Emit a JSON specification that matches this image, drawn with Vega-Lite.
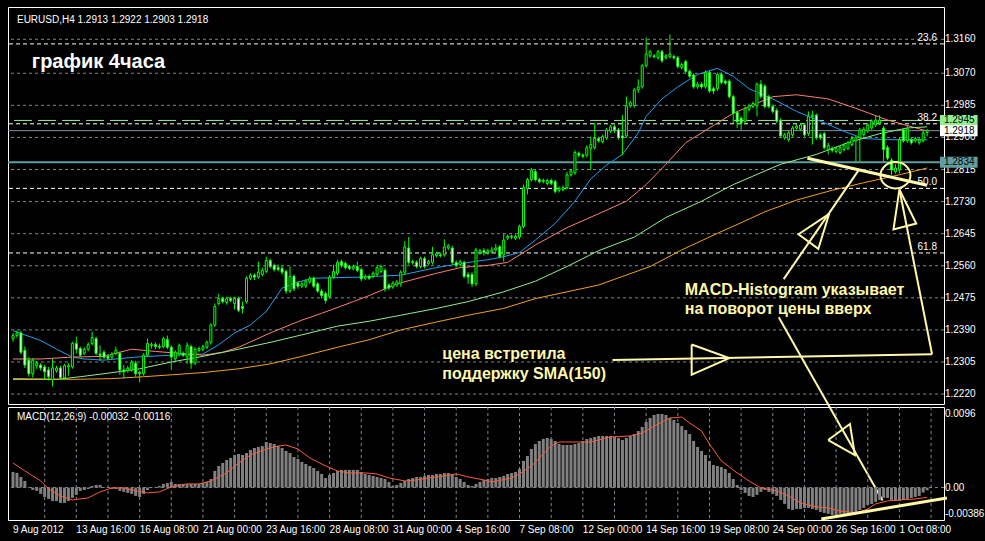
{
"$schema": "https://vega.github.io/schema/vega-lite/v6.json",
"background": "#000000",
"padding": {"left": 6, "top": 6, "right": 0, "bottom": 6},
"autosize": {"type": "pad"},
"spacing": 3,
"bounds": "flush",
"datasets": {
"candles": [
{"i":0,"o":1.2367,"h":1.2382,"l":1.2359,"c":1.2375,"m":0.00186},
{"i":1,"o":1.2375,"h":1.2388,"l":1.2369,"c":1.2382,"m":0.00174},
{"i":2,"o":1.2382,"h":1.2388,"l":1.2326,"c":1.2331,"m":0.00126},
{"i":3,"o":1.2336,"h":1.2346,"l":1.2289,"c":1.2297,"m":0.00079},
{"i":4,"o":1.2310,"h":1.2318,"l":1.2266,"c":1.2274,"m":0.00007},
{"i":5,"o":1.2274,"h":1.2315,"l":1.2264,"c":1.2310,"m":-0.00029},
{"i":6,"o":1.2295,"h":1.2308,"l":1.2287,"c":1.2302,"m":-0.00040},
{"i":7,"o":1.2297,"h":1.2302,"l":1.2282,"c":1.2289,"m":-0.00076},
{"i":8,"o":1.2292,"h":1.2297,"l":1.2259,"c":1.2279,"m":-0.00112},
{"i":9,"o":1.2284,"h":1.2292,"l":1.2256,"c":1.2266,"m":-0.00136},
{"i":10,"o":1.2259,"h":1.2313,"l":1.2240,"c":1.2289,"m":-0.00160},
{"i":11,"o":1.2282,"h":1.2295,"l":1.2277,"c":1.2289,"m":-0.00160},
{"i":12,"o":1.2289,"h":1.2295,"l":1.2259,"c":1.2264,"m":-0.00183},
{"i":13,"o":1.2264,"h":1.2300,"l":1.2259,"c":1.2295,"m":-0.00183},
{"i":14,"o":1.2292,"h":1.2302,"l":1.2269,"c":1.2295,"m":-0.00160},
{"i":15,"o":1.2292,"h":1.2359,"l":1.2287,"c":1.2354,"m":-0.00124},
{"i":16,"o":1.2354,"h":1.2372,"l":1.2328,"c":1.2339,"m":-0.00088},
{"i":17,"o":1.2341,"h":1.2346,"l":1.2318,"c":1.2323,"m":-0.00040},
{"i":18,"o":1.2328,"h":1.2344,"l":1.2323,"c":1.2339,"m":-0.00029},
{"i":19,"o":1.2339,"h":1.2357,"l":1.2333,"c":1.2351,"m":-0.00017},
{"i":20,"o":1.2354,"h":1.2385,"l":1.2349,"c":1.2370,"m":0.00019},
{"i":21,"o":1.2367,"h":1.2372,"l":1.2323,"c":1.2328,"m":0.00031},
{"i":22,"o":1.2326,"h":1.2349,"l":1.2308,"c":1.2323,"m":0.00031},
{"i":23,"o":1.2331,"h":1.2336,"l":1.2313,"c":1.2318,"m":0.00007},
{"i":24,"o":1.2320,"h":1.2326,"l":1.2310,"c":1.2315,"m":-0.00005},
{"i":25,"o":1.2318,"h":1.2331,"l":1.2313,"c":1.2326,"m":-0.00017},
{"i":26,"o":1.2328,"h":1.2346,"l":1.2323,"c":1.2336,"m":-0.00017},
{"i":27,"o":1.2328,"h":1.2333,"l":1.2271,"c":1.2284,"m":-0.00040},
{"i":28,"o":1.2284,"h":1.2297,"l":1.2261,"c":1.2279,"m":-0.00052},
{"i":29,"o":1.2282,"h":1.2295,"l":1.2277,"c":1.2289,"m":-0.00064},
{"i":30,"o":1.2284,"h":1.2310,"l":1.2279,"c":1.2305,"m":-0.00076},
{"i":31,"o":1.2302,"h":1.2308,"l":1.2266,"c":1.2274,"m":-0.00100},
{"i":32,"o":1.2277,"h":1.2282,"l":1.2251,"c":1.2274,"m":-0.00112},
{"i":33,"o":1.2274,"h":1.2328,"l":1.2269,"c":1.2323,"m":-0.00076},
{"i":34,"o":1.2323,"h":1.2367,"l":1.2318,"c":1.2354,"m":-0.00029},
{"i":35,"o":1.2349,"h":1.2357,"l":1.2341,"c":1.2351,"m":-0.00005},
{"i":36,"o":1.2351,"h":1.2357,"l":1.2339,"c":1.2346,"m":0.00007},
{"i":37,"o":1.2346,"h":1.2354,"l":1.2339,"c":1.2344,"m":0.00019},
{"i":38,"o":1.2346,"h":1.2372,"l":1.2341,"c":1.2367,"m":0.00043},
{"i":39,"o":1.2364,"h":1.2375,"l":1.2339,"c":1.2344,"m":0.00055},
{"i":40,"o":1.2344,"h":1.2349,"l":1.2284,"c":1.2318,"m":0.00067},
{"i":41,"o":1.2313,"h":1.2336,"l":1.2308,"c":1.2331,"m":0.00043},
{"i":42,"o":1.2326,"h":1.2354,"l":1.2320,"c":1.2349,"m":0.00043},
{"i":43,"o":1.2328,"h":1.2333,"l":1.2318,"c":1.2323,"m":0.00043},
{"i":44,"o":1.2318,"h":1.2357,"l":1.2300,"c":1.2349,"m":0.00043},
{"i":45,"o":1.2346,"h":1.2351,"l":1.2287,"c":1.2302,"m":0.00043},
{"i":46,"o":1.2302,"h":1.2344,"l":1.2297,"c":1.2339,"m":0.00043},
{"i":47,"o":1.2336,"h":1.2346,"l":1.2331,"c":1.2341,"m":0.00043},
{"i":48,"o":1.2339,"h":1.2351,"l":1.2333,"c":1.2346,"m":0.00055},
{"i":49,"o":1.2344,"h":1.2362,"l":1.2339,"c":1.2357,"m":0.00067},
{"i":50,"o":1.2357,"h":1.2408,"l":1.2351,"c":1.2403,"m":0.00102},
{"i":51,"o":1.2403,"h":1.2460,"l":1.2398,"c":1.2452,"m":0.00198},
{"i":52,"o":1.2460,"h":1.2486,"l":1.2455,"c":1.2473,"m":0.00257},
{"i":53,"o":1.2473,"h":1.2478,"l":1.2460,"c":1.2465,"m":0.00293},
{"i":54,"o":1.2463,"h":1.2478,"l":1.2457,"c":1.2473,"m":0.00329},
{"i":55,"o":1.2473,"h":1.2478,"l":1.2463,"c":1.2468,"m":0.00353},
{"i":56,"o":1.2460,"h":1.2478,"l":1.2444,"c":1.2473,"m":0.00388},
{"i":57,"o":1.2473,"h":1.2478,"l":1.2437,"c":1.2442,"m":0.00400},
{"i":58,"o":1.2452,"h":1.2465,"l":1.2434,"c":1.2447,"m":0.00388},
{"i":59,"o":1.2465,"h":1.2532,"l":1.2460,"c":1.2527,"m":0.00412},
{"i":60,"o":1.2527,"h":1.2540,"l":1.2522,"c":1.2535,"m":0.00448},
{"i":61,"o":1.2535,"h":1.2540,"l":1.2522,"c":1.2530,"m":0.00472},
{"i":62,"o":1.2530,"h":1.2571,"l":1.2525,"c":1.2543,"m":0.00484},
{"i":63,"o":1.2537,"h":1.2555,"l":1.2532,"c":1.2548,"m":0.00495},
{"i":64,"o":1.2545,"h":1.2584,"l":1.2540,"c":1.2574,"m":0.00543},
{"i":65,"o":1.2574,"h":1.2579,"l":1.2553,"c":1.2558,"m":0.00531},
{"i":66,"o":1.2561,"h":1.2566,"l":1.2545,"c":1.2550,"m":0.00519},
{"i":67,"o":1.2555,"h":1.2563,"l":1.2545,"c":1.2550,"m":0.00495},
{"i":68,"o":1.2553,"h":1.2561,"l":1.2537,"c":1.2543,"m":0.00472},
{"i":69,"o":1.2545,"h":1.2550,"l":1.2486,"c":1.2493,"m":0.00436},
{"i":70,"o":1.2493,"h":1.2558,"l":1.2488,"c":1.2532,"m":0.00412},
{"i":71,"o":1.2532,"h":1.2537,"l":1.2493,"c":1.2499,"m":0.00364},
{"i":72,"o":1.2514,"h":1.2519,"l":1.2499,"c":1.2506,"m":0.00341},
{"i":73,"o":1.2506,"h":1.2519,"l":1.2501,"c":1.2512,"m":0.00305},
{"i":74,"o":1.2506,"h":1.2525,"l":1.2501,"c":1.2519,"m":0.00281},
{"i":75,"o":1.2517,"h":1.2532,"l":1.2512,"c":1.2527,"m":0.00257},
{"i":76,"o":1.2527,"h":1.2532,"l":1.2501,"c":1.2506,"m":0.00233},
{"i":77,"o":1.2512,"h":1.2517,"l":1.2488,"c":1.2493,"m":0.00198},
{"i":78,"o":1.2493,"h":1.2499,"l":1.2473,"c":1.2481,"m":0.00162},
{"i":79,"o":1.2486,"h":1.2491,"l":1.2460,"c":1.2468,"m":0.00114},
{"i":80,"o":1.2478,"h":1.2535,"l":1.2473,"c":1.2530,"m":0.00150},
{"i":81,"o":1.2530,"h":1.2563,"l":1.2525,"c":1.2545,"m":0.00174},
{"i":82,"o":1.2540,"h":1.2576,"l":1.2535,"c":1.2569,"m":0.00198},
{"i":83,"o":1.2571,"h":1.2576,"l":1.2555,"c":1.2561,"m":0.00210},
{"i":84,"o":1.2566,"h":1.2571,"l":1.2550,"c":1.2555,"m":0.00210},
{"i":85,"o":1.2558,"h":1.2563,"l":1.2548,"c":1.2553,"m":0.00210},
{"i":86,"o":1.2553,"h":1.2563,"l":1.2548,"c":1.2558,"m":0.00210},
{"i":87,"o":1.2558,"h":1.2571,"l":1.2543,"c":1.2548,"m":0.00210},
{"i":88,"o":1.2550,"h":1.2555,"l":1.2519,"c":1.2525,"m":0.00186},
{"i":89,"o":1.2527,"h":1.2537,"l":1.2522,"c":1.2532,"m":0.00162},
{"i":90,"o":1.2532,"h":1.2537,"l":1.2522,"c":1.2527,"m":0.00150},
{"i":91,"o":1.2532,"h":1.2545,"l":1.2527,"c":1.2540,"m":0.00138},
{"i":92,"o":1.2537,"h":1.2561,"l":1.2532,"c":1.2555,"m":0.00126},
{"i":93,"o":1.2545,"h":1.2563,"l":1.2540,"c":1.2558,"m":0.00114},
{"i":94,"o":1.2548,"h":1.2553,"l":1.2491,"c":1.2499,"m":0.00102},
{"i":95,"o":1.2509,"h":1.2514,"l":1.2496,"c":1.2501,"m":0.00067},
{"i":96,"o":1.2504,"h":1.2519,"l":1.2499,"c":1.2514,"m":0.00019},
{"i":97,"o":1.2509,"h":1.2522,"l":1.2504,"c":1.2517,"m":0.00031},
{"i":98,"o":1.2514,"h":1.2548,"l":1.2504,"c":1.2543,"m":0.00055},
{"i":99,"o":1.2543,"h":1.2625,"l":1.2537,"c":1.2610,"m":0.00079},
{"i":100,"o":1.2607,"h":1.2636,"l":1.2563,"c":1.2569,"m":0.00102},
{"i":101,"o":1.2571,"h":1.2576,"l":1.2563,"c":1.2569,"m":0.00114},
{"i":102,"o":1.2569,"h":1.2574,"l":1.2553,"c":1.2558,"m":0.00126},
{"i":103,"o":1.2558,"h":1.2584,"l":1.2553,"c":1.2579,"m":0.00126},
{"i":104,"o":1.2579,"h":1.2584,"l":1.2553,"c":1.2558,"m":0.00138},
{"i":105,"o":1.2566,"h":1.2576,"l":1.2561,"c":1.2571,"m":0.00150},
{"i":106,"o":1.2569,"h":1.2610,"l":1.2563,"c":1.2589,"m":0.00150},
{"i":107,"o":1.2587,"h":1.2597,"l":1.2582,"c":1.2592,"m":0.00162},
{"i":108,"o":1.2589,"h":1.2595,"l":1.2582,"c":1.2587,"m":0.00162},
{"i":109,"o":1.2589,"h":1.2630,"l":1.2584,"c":1.2610,"m":0.00174},
{"i":110,"o":1.2607,"h":1.2618,"l":1.2602,"c":1.2613,"m":0.00174},
{"i":111,"o":1.2607,"h":1.2613,"l":1.2563,"c":1.2569,"m":0.00162},
{"i":112,"o":1.2569,"h":1.2574,"l":1.2555,"c":1.2561,"m":0.00126},
{"i":113,"o":1.2563,"h":1.2576,"l":1.2558,"c":1.2571,"m":0.00102},
{"i":114,"o":1.2569,"h":1.2574,"l":1.2527,"c":1.2532,"m":0.00067},
{"i":115,"o":1.2537,"h":1.2543,"l":1.2512,"c":1.2530,"m":0.00031},
{"i":116,"o":1.2537,"h":1.2543,"l":1.2504,"c":1.2512,"m":0.00019},
{"i":117,"o":1.2512,"h":1.2607,"l":1.2506,"c":1.2602,"m":0.00043},
{"i":118,"o":1.2595,"h":1.2605,"l":1.2589,"c":1.2600,"m":0.00067},
{"i":119,"o":1.2600,"h":1.2607,"l":1.2587,"c":1.2595,"m":0.00090},
{"i":120,"o":1.2595,"h":1.2605,"l":1.2589,"c":1.2600,"m":0.00102},
{"i":121,"o":1.2597,"h":1.2610,"l":1.2592,"c":1.2602,"m":0.00114},
{"i":122,"o":1.2602,"h":1.2618,"l":1.2597,"c":1.2607,"m":0.00114},
{"i":123,"o":1.2610,"h":1.2615,"l":1.2579,"c":1.2584,"m":0.00126},
{"i":124,"o":1.2589,"h":1.2646,"l":1.2571,"c":1.2628,"m":0.00138},
{"i":125,"o":1.2633,"h":1.2643,"l":1.2628,"c":1.2638,"m":0.00162},
{"i":126,"o":1.2638,"h":1.2643,"l":1.2630,"c":1.2636,"m":0.00174},
{"i":127,"o":1.2633,"h":1.2643,"l":1.2628,"c":1.2638,"m":0.00186},
{"i":128,"o":1.2636,"h":1.2669,"l":1.2630,"c":1.2664,"m":0.00222},
{"i":129,"o":1.2664,"h":1.2775,"l":1.2659,"c":1.2767,"m":0.00317},
{"i":130,"o":1.2765,"h":1.2793,"l":1.2749,"c":1.2788,"m":0.00376},
{"i":131,"o":1.2788,"h":1.2819,"l":1.2783,"c":1.2814,"m":0.00460},
{"i":132,"o":1.2809,"h":1.2814,"l":1.2783,"c":1.2788,"m":0.00519},
{"i":133,"o":1.2788,"h":1.2793,"l":1.2778,"c":1.2783,"m":0.00555},
{"i":134,"o":1.2783,"h":1.2791,"l":1.2778,"c":1.2786,"m":0.00579},
{"i":135,"o":1.2778,"h":1.2791,"l":1.2773,"c":1.2786,"m":0.00591},
{"i":136,"o":1.2786,"h":1.2791,"l":1.2773,"c":1.2778,"m":0.00579},
{"i":137,"o":1.2783,"h":1.2788,"l":1.2752,"c":1.2757,"m":0.00555},
{"i":138,"o":1.2760,"h":1.2770,"l":1.2754,"c":1.2765,"m":0.00519},
{"i":139,"o":1.2762,"h":1.2773,"l":1.2757,"c":1.2767,"m":0.00507},
{"i":140,"o":1.2767,"h":1.2809,"l":1.2762,"c":1.2801,"m":0.00507},
{"i":141,"o":1.2801,"h":1.2817,"l":1.2796,"c":1.2811,"m":0.00507},
{"i":142,"o":1.2806,"h":1.2866,"l":1.2801,"c":1.2860,"m":0.00519},
{"i":143,"o":1.2858,"h":1.2863,"l":1.2847,"c":1.2853,"m":0.00531},
{"i":144,"o":1.2853,"h":1.2858,"l":1.2845,"c":1.2850,"m":0.00555},
{"i":145,"o":1.2853,"h":1.2879,"l":1.2847,"c":1.2873,"m":0.00579},
{"i":146,"o":1.2871,"h":1.2902,"l":1.2814,"c":1.2881,"m":0.00591},
{"i":147,"o":1.2873,"h":1.2938,"l":1.2868,"c":1.2897,"m":0.00603},
{"i":148,"o":1.2897,"h":1.2902,"l":1.2886,"c":1.2891,"m":0.00615},
{"i":149,"o":1.2889,"h":1.2907,"l":1.2884,"c":1.2902,"m":0.00615},
{"i":150,"o":1.2899,"h":1.2925,"l":1.2894,"c":1.2920,"m":0.00615},
{"i":151,"o":1.2917,"h":1.2933,"l":1.2912,"c":1.2928,"m":0.00615},
{"i":152,"o":1.2928,"h":1.2933,"l":1.2912,"c":1.2920,"m":0.00603},
{"i":153,"o":1.2920,"h":1.2925,"l":1.2894,"c":1.2899,"m":0.00591},
{"i":154,"o":1.2904,"h":1.2959,"l":1.2853,"c":1.2899,"m":0.00567},
{"i":155,"o":1.2904,"h":1.3008,"l":1.2899,"c":1.2984,"m":0.00591},
{"i":156,"o":1.2984,"h":1.2997,"l":1.2979,"c":1.2992,"m":0.00615},
{"i":157,"o":1.2984,"h":1.3031,"l":1.2979,"c":1.3026,"m":0.00638},
{"i":158,"o":1.3026,"h":1.3054,"l":1.3018,"c":1.3034,"m":0.00674},
{"i":159,"o":1.3034,"h":1.3095,"l":1.3029,"c":1.3090,"m":0.00722},
{"i":160,"o":1.3090,"h":1.3165,"l":1.3085,"c":1.3121,"m":0.00781},
{"i":161,"o":1.3116,"h":1.3132,"l":1.3111,"c":1.3127,"m":0.00829},
{"i":162,"o":1.3116,"h":1.3121,"l":1.3109,"c":1.3114,"m":0.00865},
{"i":163,"o":1.3111,"h":1.3132,"l":1.3106,"c":1.3127,"m":0.00877},
{"i":164,"o":1.3127,"h":1.3132,"l":1.3098,"c":1.3103,"m":0.00877},
{"i":165,"o":1.3111,"h":1.3121,"l":1.3106,"c":1.3116,"m":0.00865},
{"i":166,"o":1.3114,"h":1.3173,"l":1.3109,"c":1.3121,"m":0.00829},
{"i":167,"o":1.3114,"h":1.3119,"l":1.3106,"c":1.3111,"m":0.00805},
{"i":168,"o":1.3111,"h":1.3116,"l":1.3083,"c":1.3088,"m":0.00769},
{"i":169,"o":1.3085,"h":1.3098,"l":1.3080,"c":1.3093,"m":0.00733},
{"i":170,"o":1.3101,"h":1.3106,"l":1.3070,"c":1.3075,"m":0.00686},
{"i":171,"o":1.3075,"h":1.3080,"l":1.3057,"c":1.3062,"m":0.00638},
{"i":172,"o":1.3065,"h":1.3070,"l":1.3029,"c":1.3034,"m":0.00555},
{"i":173,"o":1.3034,"h":1.3047,"l":1.3029,"c":1.3041,"m":0.00484},
{"i":174,"o":1.3041,"h":1.3047,"l":1.3029,"c":1.3034,"m":0.00436},
{"i":175,"o":1.3034,"h":1.3078,"l":1.3029,"c":1.3072,"m":0.00388},
{"i":176,"o":1.3072,"h":1.3078,"l":1.3018,"c":1.3023,"m":0.00317},
{"i":177,"o":1.3029,"h":1.3034,"l":1.3015,"c":1.3023,"m":0.00269},
{"i":178,"o":1.3029,"h":1.3072,"l":1.3023,"c":1.3067,"m":0.00257},
{"i":179,"o":1.3067,"h":1.3072,"l":1.3041,"c":1.3046,"m":0.00245},
{"i":180,"o":1.3049,"h":1.3054,"l":1.3039,"c":1.3044,"m":0.00222},
{"i":181,"o":1.3049,"h":1.3054,"l":1.3003,"c":1.3008,"m":0.00174},
{"i":182,"o":1.3008,"h":1.3013,"l":1.2938,"c":1.2964,"m":0.00102},
{"i":183,"o":1.2966,"h":1.2971,"l":1.2925,"c":1.2941,"m":0.00031},
{"i":184,"o":1.2951,"h":1.2956,"l":1.2920,"c":1.2938,"m":-0.00029},
{"i":185,"o":1.2943,"h":1.2982,"l":1.2938,"c":1.2977,"m":-0.00064},
{"i":186,"o":1.2974,"h":1.2990,"l":1.2969,"c":1.2984,"m":-0.00100},
{"i":187,"o":1.2982,"h":1.2995,"l":1.2977,"c":1.2990,"m":-0.00112},
{"i":188,"o":1.2984,"h":1.3046,"l":1.2956,"c":1.3041,"m":-0.00088},
{"i":189,"o":1.3041,"h":1.3052,"l":1.3003,"c":1.3008,"m":-0.00052},
{"i":190,"o":1.3036,"h":1.3041,"l":1.2977,"c":1.2982,"m":-0.00029},
{"i":191,"o":1.3008,"h":1.3013,"l":1.2977,"c":1.2982,"m":-0.00052},
{"i":192,"o":1.2982,"h":1.2987,"l":1.2964,"c":1.2969,"m":-0.00076},
{"i":193,"o":1.2971,"h":1.2977,"l":1.2938,"c":1.2943,"m":-0.00100},
{"i":194,"o":1.2946,"h":1.2951,"l":1.2899,"c":1.2904,"m":-0.00148},
{"i":195,"o":1.2899,"h":1.2912,"l":1.2894,"c":1.2907,"m":-0.00195},
{"i":196,"o":1.2894,"h":1.2917,"l":1.2889,"c":1.2912,"m":-0.00255},
{"i":197,"o":1.2907,"h":1.2930,"l":1.2902,"c":1.2925,"m":-0.00267},
{"i":198,"o":1.2925,"h":1.2935,"l":1.2920,"c":1.2930,"m":-0.00255},
{"i":199,"o":1.2922,"h":1.2938,"l":1.2917,"c":1.2933,"m":-0.00255},
{"i":200,"o":1.2933,"h":1.2938,"l":1.2902,"c":1.2907,"m":-0.00243},
{"i":201,"o":1.2910,"h":1.2969,"l":1.2904,"c":1.2956,"m":-0.00243},
{"i":202,"o":1.2956,"h":1.2971,"l":1.2881,"c":1.2959,"m":-0.00255},
{"i":203,"o":1.2959,"h":1.2964,"l":1.2894,"c":1.2899,"m":-0.00267},
{"i":204,"o":1.2907,"h":1.2912,"l":1.2894,"c":1.2899,"m":-0.00291},
{"i":205,"o":1.2910,"h":1.2915,"l":1.2868,"c":1.2873,"m":-0.00303},
{"i":206,"o":1.2868,"h":1.2886,"l":1.2855,"c":1.2879,"m":-0.00314},
{"i":207,"o":1.2871,"h":1.2876,"l":1.2860,"c":1.2866,"m":-0.00326},
{"i":208,"o":1.2863,"h":1.2876,"l":1.2858,"c":1.2871,"m":-0.00326},
{"i":209,"o":1.2860,"h":1.2879,"l":1.2855,"c":1.2873,"m":-0.00314},
{"i":210,"o":1.2868,"h":1.2884,"l":1.2863,"c":1.2879,"m":-0.00314},
{"i":211,"o":1.2871,"h":1.2891,"l":1.2866,"c":1.2886,"m":-0.00314},
{"i":212,"o":1.2881,"h":1.2904,"l":1.2876,"c":1.2897,"m":-0.00303},
{"i":213,"o":1.2891,"h":1.2904,"l":1.2835,"c":1.2899,"m":-0.00291},
{"i":214,"o":1.2899,"h":1.2925,"l":1.2835,"c":1.2920,"m":-0.00267},
{"i":215,"o":1.2907,"h":1.2928,"l":1.2902,"c":1.2922,"m":-0.00243},
{"i":216,"o":1.2917,"h":1.2938,"l":1.2912,"c":1.2933,"m":-0.00207},
{"i":217,"o":1.2925,"h":1.2948,"l":1.2920,"c":1.2943,"m":-0.00195},
{"i":218,"o":1.2933,"h":1.2959,"l":1.2928,"c":1.2946,"m":-0.00172},
{"i":219,"o":1.2938,"h":1.2959,"l":1.2933,"c":1.2946,"m":-0.00148},
{"i":220,"o":1.2925,"h":1.2930,"l":1.2835,"c":1.2868,"m":-0.00124},
{"i":221,"o":1.2873,"h":1.2879,"l":1.2840,"c":1.2845,"m":-0.00124},
{"i":222,"o":1.2840,"h":1.2845,"l":1.2801,"c":1.2814,"m":-0.00148},
{"i":223,"o":1.2809,"h":1.2829,"l":1.2804,"c":1.2819,"m":-0.00160},
{"i":224,"o":1.2814,"h":1.2899,"l":1.2804,"c":1.2894,"m":-0.00160},
{"i":225,"o":1.2920,"h":1.2925,"l":1.2886,"c":1.2891,"m":-0.00148},
{"i":226,"o":1.2891,"h":1.2933,"l":1.2886,"c":1.2922,"m":-0.00136},
{"i":227,"o":1.2894,"h":1.2899,"l":1.2881,"c":1.2886,"m":-0.00124},
{"i":228,"o":1.2891,"h":1.2902,"l":1.2886,"c":1.2897,"m":-0.00112},
{"i":229,"o":1.2886,"h":1.2899,"l":1.2881,"c":1.2894,"m":-0.00100},
{"i":230,"o":1.2891,"h":1.2917,"l":1.2886,"c":1.2912,"m":-0.00060},
{"i":231,"o":1.2913,"h":1.2922,"l":1.2903,"c":1.2918,"m":-0.00032}
],
"ma": [
{"s":"b","i":0,"v":1.2388},{"s":"b","i":7,"v":1.2362},{"s":"b","i":11,"v":1.2339},{"s":"b","i":15,"v":1.2318},{"s":"b","i":18,"v":1.2313},{"s":"b","i":23,"v":1.2310},{"s":"b","i":31,"v":1.2318},{"s":"b","i":40,"v":1.2323},{"s":"b","i":48,"v":1.2326},{"s":"b","i":52,"v":1.2351},{"s":"b","i":56,"v":1.2382},{"s":"b","i":60,"v":1.2403},{"s":"b","i":64,"v":1.2439},{"s":"b","i":68,"v":1.2501},{"s":"b","i":72,"v":1.2517},{"s":"b","i":76,"v":1.2527},{"s":"b","i":88,"v":1.2530},{"s":"b","i":98,"v":1.2535},{"s":"b","i":106,"v":1.2553},{"s":"b","i":113,"v":1.2566},{"s":"b","i":120,"v":1.2576},{"s":"b","i":124,"v":1.2584},{"s":"b","i":128,"v":1.2595},{"s":"b","i":132,"v":1.2628},{"s":"b","i":137,"v":1.2672},{"s":"b","i":142,"v":1.2731},{"s":"b","i":146,"v":1.2790},{"s":"b","i":150,"v":1.2827},{"s":"b","i":154,"v":1.2855},{"s":"b","i":158,"v":1.2912},{"s":"b","i":160,"v":1.2956},{"s":"b","i":164,"v":1.3002},{"s":"b","i":168,"v":1.3034},{"s":"b","i":173,"v":1.3067},{"s":"b","i":178,"v":1.3083},{"s":"b","i":182,"v":1.3062},{"s":"b","i":186,"v":1.3029},{"s":"b","i":192,"v":1.3002},{"s":"b","i":198,"v":1.2969},{"s":"b","i":204,"v":1.2943},{"s":"b","i":211,"v":1.2912},{"s":"b","i":215,"v":1.2897},{"s":"b","i":221,"v":1.2894},{"s":"b","i":231,"v":1.2894},
{"s":"r","i":0,"v":1.2313},{"s":"r","i":7,"v":1.2313},{"s":"r","i":15,"v":1.2318},{"s":"r","i":23,"v":1.2320},{"s":"r","i":30,"v":1.2339},{"s":"r","i":36,"v":1.2333},{"s":"r","i":42,"v":1.2328},{"s":"r","i":48,"v":1.2323},{"s":"r","i":53,"v":1.2331},{"s":"r","i":57,"v":1.2344},{"s":"r","i":65,"v":1.2382},{"s":"r","i":73,"v":1.2416},{"s":"r","i":78,"v":1.2434},{"s":"r","i":86,"v":1.2465},{"s":"r","i":90,"v":1.2481},{"s":"r","i":97,"v":1.2512},{"s":"r","i":107,"v":1.2540},{"s":"r","i":113,"v":1.2555},{"s":"r","i":120,"v":1.2561},{"s":"r","i":125,"v":1.2569},{"s":"r","i":132,"v":1.2615},{"s":"r","i":140,"v":1.2661},{"s":"r","i":148,"v":1.2698},{"s":"r","i":155,"v":1.2731},{"s":"r","i":160,"v":1.2775},{"s":"r","i":165,"v":1.2829},{"s":"r","i":170,"v":1.2886},{"s":"r","i":174,"v":1.2912},{"s":"r","i":182,"v":1.2964},{"s":"r","i":192,"v":1.3008},{"s":"r","i":198,"v":1.3013},{"s":"r","i":206,"v":1.3002},{"s":"r","i":213,"v":1.2977},{"s":"r","i":221,"v":1.2946},{"s":"r","i":231,"v":1.2917},
{"s":"g","i":0,"v":1.2259},{"s":"g","i":11,"v":1.2259},{"s":"g","i":17,"v":1.2266},{"s":"g","i":23,"v":1.2274},{"s":"g","i":32,"v":1.2287},{"s":"g","i":40,"v":1.2305},{"s":"g","i":48,"v":1.2320},{"s":"g","i":57,"v":1.2339},{"s":"g","i":65,"v":1.2357},{"s":"g","i":73,"v":1.2377},{"s":"g","i":82,"v":1.2400},{"s":"g","i":90,"v":1.2413},{"s":"g","i":98,"v":1.2429},{"s":"g","i":107,"v":1.2447},{"s":"g","i":115,"v":1.2465},{"s":"g","i":124,"v":1.2491},{"s":"g","i":132,"v":1.2519},{"s":"g","i":140,"v":1.2558},{"s":"g","i":148,"v":1.2600},{"s":"g","i":157,"v":1.2636},{"s":"g","i":165,"v":1.2688},{"s":"g","i":174,"v":1.2731},{"s":"g","i":182,"v":1.2775},{"s":"g","i":194,"v":1.2829},{"s":"g","i":203,"v":1.2855},{"s":"g","i":211,"v":1.2886},{"s":"g","i":219,"v":1.2910},{"s":"g","i":226,"v":1.2925},{"s":"g","i":231,"v":1.2928},
{"s":"o","i":0,"v":1.2261},{"s":"o","i":15,"v":1.2259},{"s":"o","i":25,"v":1.2261},{"s":"o","i":33,"v":1.2266},{"s":"o","i":40,"v":1.2271},{"s":"o","i":48,"v":1.2277},{"s":"o","i":57,"v":1.2287},{"s":"o","i":65,"v":1.2300},{"s":"o","i":73,"v":1.2320},{"s":"o","i":82,"v":1.2344},{"s":"o","i":90,"v":1.2364},{"s":"o","i":98,"v":1.2390},{"s":"o","i":107,"v":1.2411},{"s":"o","i":115,"v":1.2429},{"s":"o","i":124,"v":1.2447},{"s":"o","i":132,"v":1.2473},{"s":"o","i":140,"v":1.2491},{"s":"o","i":148,"v":1.2509},{"s":"o","i":161,"v":1.2558},{"s":"o","i":169,"v":1.2602},{"s":"o","i":178,"v":1.2646},{"s":"o","i":184,"v":1.2674},{"s":"o","i":190,"v":1.2703},{"s":"o","i":198,"v":1.2734},{"s":"o","i":207,"v":1.2760},{"s":"o","i":215,"v":1.2780},{"s":"o","i":224,"v":1.2801},{"s":"o","i":231,"v":1.2819}
],
"sig": [
{"i":0,"v":0.00293},{"i":3,"v":0.00198},{"i":7,"v":0.00079},{"i":9,"v":-0.00017},{"i":12,"v":-0.00100},{"i":15,"v":-0.00148},{"i":19,"v":-0.00124},{"i":22,"v":-0.00052},{"i":25,"v":-0.00005},{"i":28,"v":-0.00005},{"i":30,"v":-0.00029},{"i":34,"v":-0.00064},{"i":37,"v":-0.00052},{"i":40,"v":0.00007},{"i":44,"v":0.00043},{"i":47,"v":0.00043},{"i":50,"v":0.00079},{"i":54,"v":0.00174},{"i":57,"v":0.00293},{"i":60,"v":0.00388},{"i":64,"v":0.00460},{"i":67,"v":0.00495},{"i":69,"v":0.00507},{"i":72,"v":0.00460},{"i":75,"v":0.00353},{"i":79,"v":0.00257},{"i":82,"v":0.00198},{"i":85,"v":0.00174},{"i":89,"v":0.00174},{"i":92,"v":0.00162},{"i":95,"v":0.00114},{"i":99,"v":0.00079},{"i":102,"v":0.00090},{"i":105,"v":0.00114},{"i":109,"v":0.00138},{"i":112,"v":0.00162},{"i":115,"v":0.00126},{"i":119,"v":0.00090},{"i":121,"v":0.00067},{"i":126,"v":0.00114},{"i":128,"v":0.00162},{"i":131,"v":0.00257},{"i":134,"v":0.00400},{"i":136,"v":0.00495},{"i":138,"v":0.00543},{"i":146,"v":0.00543},{"i":149,"v":0.00579},{"i":151,"v":0.00603},{"i":156,"v":0.00615},{"i":159,"v":0.00650},{"i":163,"v":0.00757},{"i":166,"v":0.00829},{"i":169,"v":0.00840},{"i":171,"v":0.00769},{"i":174,"v":0.00674},{"i":176,"v":0.00519},{"i":179,"v":0.00317},{"i":183,"v":0.00174},{"i":186,"v":0.00079},{"i":189,"v":-0.00005},{"i":193,"v":-0.00040},{"i":196,"v":-0.00100},{"i":199,"v":-0.00183},{"i":203,"v":-0.00231},{"i":206,"v":-0.00243},{"i":209,"v":-0.00279},{"i":213,"v":-0.00303},{"i":216,"v":-0.00255},{"i":218,"v":-0.00195},{"i":221,"v":-0.00160},{"i":224,"v":-0.00148},{"i":228,"v":-0.00136},{"i":231,"v":-0.00116}
],
"annThin": [
{"g":"A","k":0,"i":194.75,"p":1.25245},{"g":"A","k":1,"i":213.75,"p":1.28139},
{"g":"B","k":0,"i":206.25,"p":1.26976},{"g":"B","k":1,"i":198.5,"p":1.26434},{"g":"B","k":2,"i":203.5,"p":1.26046},{"g":"B","k":3,"i":206.25,"p":1.26976},
{"g":"C","k":0,"i":224,"p":1.27622},{"g":"C","k":1,"i":232.25,"p":1.23256},
{"g":"D","k":0,"i":224,"p":1.27622},{"g":"D","k":1,"i":222.5,"p":1.26563},{"g":"D","k":2,"i":228.25,"p":1.26718},{"g":"D","k":3,"i":224,"p":1.27622},
{"g":"E","k":0,"i":151.5,"p":1.23101},{"g":"E","k":1,"i":232.25,"p":1.23256},
{"g":"F","k":0,"i":171.5,"p":1.23514},{"g":"F","k":1,"i":171.5,"p":1.22714},{"g":"F","k":2,"i":181,"p":1.23152},{"g":"F","k":3,"i":171.5,"p":1.23514},
{"g":"G","k":0,"i":193.5,"p":1.24238},{"g":"G","k":1,"i":219.75,"p":1.19384}
],
"annThick": [
{"g":"H","k":0,"i":200.75,"p":1.28448},{"g":"H","k":1,"i":231,"p":1.27735}
],
"macdThin": [
{"g":"I","k":0,"i":206,"v":0.00566},{"g":"I","k":1,"i":211.5,"v":0.00757},{"g":"I","k":2,"i":212.75,"v":0.00387},{"g":"I","k":3,"i":206,"v":0.00566}
],
"macdThick": [
{"g":"J","k":0,"i":204.25,"v":-0.00375},{"g":"J","k":1,"i":236,"v":-0.00125}
],
"circle": [{"i":223,"p":1.27997}],
"fib": [{"p":1.31478},{"p":1.29361},{"p":1.2765},{"p":1.25939}],
"lvGreen": [{"p":1.2945}],
"lvGray": [{"p":1.2918}],
"lvTeal": [{"p":1.2834}],
"ylab": [
{"i":235.5,"p":1.316,"t":"1.3160"},{"i":235.5,"p":1.307,"t":"1.3070"},{"i":235.5,"p":1.2985,"t":"1.2985"},{"i":235.5,"p":1.29,"t":"1.2900"},
{"i":235.5,"p":1.2815,"t":"1.2815"},{"i":235.5,"p":1.273,"t":"1.2730"},{"i":235.5,"p":1.2645,"t":"1.2645"},{"i":235.5,"p":1.256,"t":"1.2560"},
{"i":235.5,"p":1.2475,"t":"1.2475"},{"i":235.5,"p":1.239,"t":"1.2390"},{"i":235.5,"p":1.2305,"t":"1.2305"},{"i":235.5,"p":1.222,"t":"1.2220"}
],
"vgrid": [{"i":8},{"i":16},{"i":24},{"i":32},{"i":40},{"i":48},{"i":56},{"i":64},{"i":72},{"i":80},{"i":88},{"i":96},{"i":104},{"i":112},{"i":120},{"i":128},{"i":136},{"i":144},{"i":152},{"i":160},{"i":168},{"i":176},{"i":184},{"i":192},{"i":200},{"i":208},{"i":216},{"i":224},{"i":232}],
"mzero": [{"v":0}],
"mlab": [{"i":235.5,"v":0.00876,"t":"0.0096"},{"i":235.5,"v":0,"t":"0.00"},{"i":235.5,"v":-0.00316,"t":"-0.00386"}],
"xlab": [
{"i":0,"v":-0.00507,"t":"9 Aug 2012"},{"i":16,"v":-0.00507,"t":"13 Aug 16:00"},{"i":32,"v":-0.00507,"t":"16 Aug 08:00"},{"i":48,"v":-0.00507,"t":"21 Aug 00:00"},
{"i":64,"v":-0.00507,"t":"23 Aug 16:00"},{"i":80,"v":-0.00507,"t":"28 Aug 08:00"},{"i":96,"v":-0.00507,"t":"31 Aug 00:00"},{"i":112,"v":-0.00507,"t":"4 Sep 16:00"},
{"i":128,"v":-0.00507,"t":"7 Sep 08:00"},{"i":144,"v":-0.00507,"t":"12 Sep 00:00"},{"i":160,"v":-0.00507,"t":"14 Sep 16:00"},{"i":176,"v":-0.00507,"t":"19 Sep 08:00"},
{"i":192,"v":-0.00507,"t":"24 Sep 00:00"},{"i":208,"v":-0.00507,"t":"26 Sep 16:00"},{"i":224,"v":-0.00507,"t":"1 Oct 08:00"}
],
"fibTxt": [{"i":233.5,"p":1.31478,"t":"23.6"},{"i":233.5,"p":1.29361,"t":"38.2"},{"i":233.5,"p":1.2765,"t":"50.0"},{"i":233.5,"p":1.25939,"t":"61.8"}],
"title": [{"i":1,"p":1.32116,"t":"EURUSD,H4  1.2913 1.2922 1.2903 1.2918"}],
"big": [{"i":4.75,"p":1.31006,"t":"график 4часа"}],
"yellowTxt": [
{"i":169.75,"p":1.24961,"t":"MACD-Histogram указывает"},
{"i":169.75,"p":1.24444,"t":"на поворот цены вверх"},
{"i":108.5,"p":1.23256,"t":"цена встретила"},
{"i":108.5,"p":1.22739,"t":"поддержку SMA(150)"}
],
"boxes": [
{"i0":234.25,"i1":243.75,"tx":235.25,"p":1.2945,"t":"1.2945","k":"g"},
{"i0":234.25,"i1":243.75,"tx":235.25,"p":1.2918,"t":"1.2918","k":"w"},
{"i0":234.25,"i1":243.75,"tx":235.25,"p":1.2834,"t":"1.2834","k":"t"}
],
"macdTitle": [{"i":1,"v":0.0084,"t":"MACD(12,26,9) -0.00032 -0.00116"}]
},
"vconcat": [
{
"width": 936,
"height": 397,
"layer": [
{
"data": {"name": "ylab"},
"mark": {"type": "rule", "color": "#778899", "strokeDash": [3, 3], "strokeWidth": 1},
"encoding": {
"y": {"field": "p", "type": "quantitative", "axis": null, "scale": {"domain": [1.2207, 1.32323], "nice": false, "zero": false}}
}
},
{
"data": {"name": "fib"},
"mark": {"type": "rule", "color": "#ffffff", "strokeDash": [4, 3], "strokeWidth": 1},
"encoding": {
"y": {"field": "p", "type": "quantitative", "axis": null, "scale": {"domain": [1.2207, 1.32323], "nice": false, "zero": false}}
}
},
{
"data": {"name": "lvGreen"},
"mark": {"type": "rule", "color": "#90EE90", "strokeDash": [18, 6], "strokeWidth": 1},
"encoding": {"y": {"field": "p", "type": "quantitative", "axis": null, "scale": {"domain": [1.2207, 1.32323], "nice": false, "zero": false}}}
},
{
"data": {"name": "lvGray"},
"mark": {"type": "rule", "color": "#8090a4", "strokeWidth": 1},
"encoding": {"y": {"field": "p", "type": "quantitative", "axis": null, "scale": {"domain": [1.2207, 1.32323], "nice": false, "zero": false}}}
},
{
"data": {"name": "lvTeal"},
"mark": {"type": "rule", "color": "#5F9EA0", "strokeWidth": 2},
"encoding": {"y": {"field": "p", "type": "quantitative", "axis": null, "scale": {"domain": [1.2207, 1.32323], "nice": false, "zero": false}}}
},
{
"data": {"name": "ma"},
"mark": {"type": "line", "strokeWidth": 1},
"encoding": {
"x": {"field": "i", "type": "quantitative", "title": null,
"scale": {"domain": [0, 234], "nice": false, "zero": false},
"axis": {"values": [8,16,24,32,40,48,56,64,72,80,88,96,104,112,120,128,136,144,152,160,168,176,184,192,200,208,216,224,232],
"grid": true, "labels": false, "ticks": false, "domain": false, "title": null}},
"y": {"field": "v", "type": "quantitative", "axis": null, "scale": {"domain": [1.2207, 1.32323], "nice": false, "zero": false}},
"color": {"field": "s", "type": "nominal", "legend": null,
"scale": {"domain": ["b", "r", "g", "o"], "range": ["#1EA0F0", "#FA8072", "#90EE90", "#F0A020"]}}
}
},
{
"data": {"name": "candles"},
"mark": {"type": "rule", "color": "#00FF00", "strokeWidth": 1},
"encoding": {
"x": {"field": "i", "type": "quantitative", "axis": null, "scale": {"domain": [0, 234], "nice": false, "zero": false}},
"y": {"field": "l", "type": "quantitative", "axis": null, "scale": {"domain": [1.2207, 1.32323], "nice": false, "zero": false}},
"y2": {"field": "h"}
}
},
{
"data": {"name": "candles"},
"mark": {"type": "bar", "size": 2, "stroke": "#00FF00", "strokeWidth": 1},
"encoding": {
"x": {"field": "i", "type": "quantitative", "axis": null, "scale": {"domain": [0, 234], "nice": false, "zero": false}},
"y": {"field": "o", "type": "quantitative", "axis": null, "scale": {"domain": [1.2207, 1.32323], "nice": false, "zero": false}},
"y2": {"field": "c"},
"fill": {"condition": {"test": "datum.c < datum.o", "value": "#ffffff"}, "value": "#000000"}
}
},
{
"data": {"name": "annThin"},
"mark": {"type": "line", "color": "#FFF8A8", "strokeWidth": 2},
"encoding": {
"x": {"field": "i", "type": "quantitative", "axis": null, "scale": {"domain": [0, 234], "nice": false, "zero": false}},
"y": {"field": "p", "type": "quantitative", "axis": null, "scale": {"domain": [1.2207, 1.32323], "nice": false, "zero": false}},
"detail": {"field": "g", "type": "nominal"},
"order": {"field": "k", "type": "quantitative"}
}
},
{
"data": {"name": "annThick"},
"mark": {"type": "line", "color": "#FFF8A8", "strokeWidth": 3},
"encoding": {
"x": {"field": "i", "type": "quantitative", "axis": null, "scale": {"domain": [0, 234], "nice": false, "zero": false}},
"y": {"field": "p", "type": "quantitative", "axis": null, "scale": {"domain": [1.2207, 1.32323], "nice": false, "zero": false}},
"detail": {"field": "g", "type": "nominal"},
"order": {"field": "k", "type": "quantitative"}
}
},
{
"data": {"name": "circle"},
"mark": {"type": "point", "shape": "M-1,0A1,0.88,0,1,1,1,0A1,0.88,0,1,1,-1,0Z", "size": 900, "filled": false, "stroke": "#FFF8A8", "strokeWidth": 2, "opacity": 1},
"encoding": {
"x": {"field": "i", "type": "quantitative", "axis": null, "scale": {"domain": [0, 234], "nice": false, "zero": false}},
"y": {"field": "p", "type": "quantitative", "axis": null, "scale": {"domain": [1.2207, 1.32323], "nice": false, "zero": false}}
}
},
{
"data": {"name": "fibTxt"},
"mark": {"type": "text", "align": "right", "baseline": "bottom", "dy": -1, "color": "#ffffff", "font": "Liberation Sans", "fontSize": 10},
"encoding": {
"x": {"field": "i", "type": "quantitative", "axis": null, "scale": {"domain": [0, 234], "nice": false, "zero": false}},
"y": {"field": "p", "type": "quantitative", "axis": null, "scale": {"domain": [1.2207, 1.32323], "nice": false, "zero": false}},
"text": {"field": "t"}
}
},
{
"data": {"name": "title"},
"mark": {"type": "text", "align": "left", "baseline": "middle", "color": "#ffffff", "font": "Liberation Sans", "fontSize": 10},
"encoding": {
"x": {"field": "i", "type": "quantitative", "axis": null, "scale": {"domain": [0, 234], "nice": false, "zero": false}},
"y": {"field": "p", "type": "quantitative", "axis": null, "scale": {"domain": [1.2207, 1.32323], "nice": false, "zero": false}},
"text": {"field": "t"}
}
},
{
"data": {"name": "big"},
"mark": {"type": "text", "align": "left", "baseline": "middle", "color": "#ffffff", "font": "Liberation Sans", "fontSize": 20, "fontWeight": "bold"},
"encoding": {
"x": {"field": "i", "type": "quantitative", "axis": null, "scale": {"domain": [0, 234], "nice": false, "zero": false}},
"y": {"field": "p", "type": "quantitative", "axis": null, "scale": {"domain": [1.2207, 1.32323], "nice": false, "zero": false}},
"text": {"field": "t"}
}
},
{
"data": {"name": "yellowTxt"},
"mark": {"type": "text", "align": "left", "baseline": "middle", "color": "#FFF8A8", "font": "Liberation Sans", "fontSize": 16, "fontWeight": "bold"},
"encoding": {
"x": {"field": "i", "type": "quantitative", "axis": null, "scale": {"domain": [0, 234], "nice": false, "zero": false}},
"y": {"field": "p", "type": "quantitative", "axis": null, "scale": {"domain": [1.2207, 1.32323], "nice": false, "zero": false}},
"text": {"field": "t"}
}
},
{
"data": {"name": "ylab"},
"mark": {"type": "text", "align": "left", "baseline": "middle", "color": "#ffffff", "font": "Liberation Sans", "fontSize": 10},
"encoding": {
"x": {"field": "i", "type": "quantitative", "axis": null, "scale": {"domain": [0, 234], "nice": false, "zero": false}},
"y": {"field": "p", "type": "quantitative", "axis": null, "scale": {"domain": [1.2207, 1.32323], "nice": false, "zero": false}},
"text": {"field": "t"}
}
},
{
"data": {"name": "boxes"},
"mark": {"type": "bar", "orient": "horizontal", "size": 11},
"encoding": {
"x": {"field": "i0", "type": "quantitative", "axis": null, "scale": {"domain": [0, 234], "nice": false, "zero": false}},
"x2": {"field": "i1"},
"y": {"field": "p", "type": "quantitative", "axis": null, "scale": {"domain": [1.2207, 1.32323], "nice": false, "zero": false}},
"fill": {"field": "k", "type": "nominal", "legend": null, "scale": {"domain": ["g", "w", "t"], "range": ["#90EE90", "#FFFFFF", "#5F9EA0"]}}
}
},
{
"data": {"name": "boxes"},
"mark": {"type": "text", "align": "left", "baseline": "middle", "color": "#000000", "font": "Liberation Sans", "fontSize": 10},
"encoding": {
"x": {"field": "tx", "type": "quantitative", "axis": null, "scale": {"domain": [0, 234], "nice": false, "zero": false}},
"y": {"field": "p", "type": "quantitative", "axis": null, "scale": {"domain": [1.2207, 1.32323], "nice": false, "zero": false}},
"text": {"field": "t"}
}
}
]
},
{
"width": 936,
"height": 113,
"layer": [
{
"data": {"name": "vgrid"},
"mark": {"type": "rule", "color": "#778899", "strokeDash": [3, 3], "strokeWidth": 1},
"encoding": {
"x": {"field": "i", "type": "quantitative", "axis": null, "scale": {"domain": [0, 234], "nice": false, "zero": false}}
}
},
{
"data": {"name": "mzero"},
"mark": {"type": "rule", "color": "#778899", "strokeDash": [3, 3], "strokeWidth": 1},
"encoding": {
"y": {"field": "v", "type": "quantitative", "axis": null, "scale": {"domain": [-0.00387, 0.0096], "nice": false, "zero": false}}
}
},
{
"data": {"name": "candles"},
"mark": {"type": "bar", "orient": "vertical", "size": 3, "color": "#808080"},
"encoding": {
"x": {"field": "i", "type": "quantitative", "axis": null, "scale": {"domain": [0, 234], "nice": false, "zero": false}},
"y": {"field": "m", "type": "quantitative", "axis": null, "scale": {"domain": [-0.00387, 0.0096], "nice": false, "zero": false}}
}
},
{
"data": {"name": "sig"},
"mark": {"type": "line", "color": "#FF5A3C", "strokeWidth": 1},
"encoding": {
"x": {"field": "i", "type": "quantitative", "axis": null, "scale": {"domain": [0, 234], "nice": false, "zero": false}},
"y": {"field": "v", "type": "quantitative", "axis": null, "scale": {"domain": [-0.00387, 0.0096], "nice": false, "zero": false}}
}
},
{
"data": {"name": "macdThin"},
"mark": {"type": "line", "color": "#FFF8A8", "strokeWidth": 2},
"encoding": {
"x": {"field": "i", "type": "quantitative", "axis": null, "scale": {"domain": [0, 234], "nice": false, "zero": false}},
"y": {"field": "v", "type": "quantitative", "axis": null, "scale": {"domain": [-0.00387, 0.0096], "nice": false, "zero": false}},
"detail": {"field": "g", "type": "nominal"},
"order": {"field": "k", "type": "quantitative"}
}
},
{
"data": {"name": "macdThick"},
"mark": {"type": "line", "color": "#FFF8A8", "strokeWidth": 3},
"encoding": {
"x": {"field": "i", "type": "quantitative", "axis": null, "scale": {"domain": [0, 234], "nice": false, "zero": false}},
"y": {"field": "v", "type": "quantitative", "axis": null, "scale": {"domain": [-0.00387, 0.0096], "nice": false, "zero": false}},
"detail": {"field": "g", "type": "nominal"},
"order": {"field": "k", "type": "quantitative"}
}
},
{
"data": {"name": "macdTitle"},
"mark": {"type": "text", "align": "left", "baseline": "middle", "color": "#ffffff", "font": "Liberation Sans", "fontSize": 10},
"encoding": {
"x": {"field": "i", "type": "quantitative", "axis": null, "scale": {"domain": [0, 234], "nice": false, "zero": false}},
"y": {"field": "v", "type": "quantitative", "axis": null, "scale": {"domain": [-0.00387, 0.0096], "nice": false, "zero": false}},
"text": {"field": "t"}
}
},
{
"data": {"name": "mlab"},
"mark": {"type": "text", "align": "left", "baseline": "middle", "color": "#ffffff", "font": "Liberation Sans", "fontSize": 10},
"encoding": {
"x": {"field": "i", "type": "quantitative", "axis": null, "scale": {"domain": [0, 234], "nice": false, "zero": false}},
"y": {"field": "v", "type": "quantitative", "axis": null, "scale": {"domain": [-0.00387, 0.0096], "nice": false, "zero": false}},
"text": {"field": "t"}
}
},
{
"data": {"name": "xlab"},
"mark": {"type": "text", "align": "left", "baseline": "middle", "color": "#ffffff", "font": "Liberation Sans", "fontSize": 10},
"encoding": {
"x": {"field": "i", "type": "quantitative", "axis": null, "scale": {"domain": [0, 234], "nice": false, "zero": false}},
"y": {"field": "v", "type": "quantitative", "axis": null, "scale": {"domain": [-0.00387, 0.0096], "nice": false, "zero": false}},
"text": {"field": "t"}
}
}
]
}
],
"config": {
"font": "Liberation Sans",
"view": {"stroke": "#ffffff", "strokeWidth": 1},
"axis": {"gridColor": "#778899", "gridDash": [3, 3], "gridWidth": 1, "domain": false}
}
}
